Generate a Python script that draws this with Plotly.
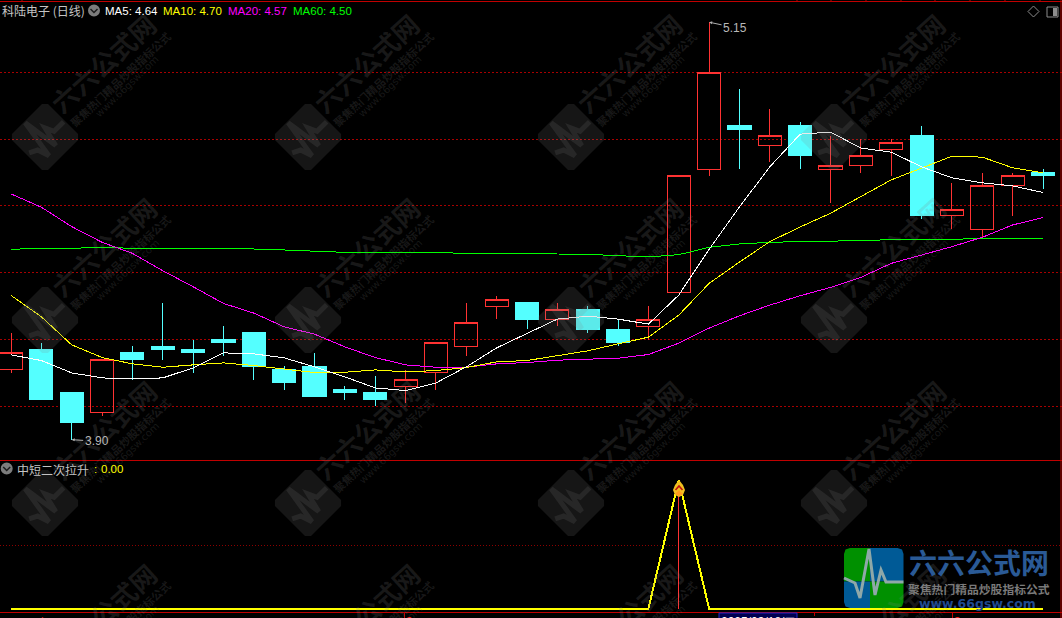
import math
import plotly.graph_objects as go

# ---------- data ----------
day_index = [0, 1, 2, 3, 4, 5, 6, 7, 8, 9, 10, 11, 12, 13, 14, 15, 16, 17,
             18, 19, 20, 21, 22, 23, 24, 25, 26, 27, 28, 29, 30, 31, 32, 33, 34]
open_p = [4.11, 4.17, 4.04, 3.98, 4.16, 4.18, 4.17, 4.20, 4.22, 4.11, 4.12, 4.05,
          4.04, 4.06, 4.10, 4.18, 4.30, 4.31, 4.26, 4.29, 4.23, 4.24, 4.34, 4.71,
          4.84, 4.78, 4.84, 4.71, 4.72, 4.77, 4.81, 4.57, 4.53, 4.66, 4.70]
close_p = [4.16, 4.02, 3.95, 4.14, 4.14, 4.17, 4.16, 4.19, 4.12, 4.07, 4.03, 4.04,
           4.02, 4.08, 4.19, 4.25, 4.32, 4.26, 4.29, 4.23, 4.19, 4.26, 4.69, 5.00,
           4.83, 4.81, 4.75, 4.72, 4.75, 4.79, 4.57, 4.59, 4.66, 4.69, 4.69]
high_p = [4.22, 4.19, 4.04, 4.14, 4.18, 4.31, 4.20, 4.24, 4.22, 4.12, 4.16, 4.06,
          4.09, 4.11, 4.19, 4.31, 4.33, 4.31, 4.31, 4.30, 4.26, 4.30, 4.69, 5.15,
          4.95, 4.89, 4.85, 4.81, 4.80, 4.80, 4.84, 4.67, 4.70, 4.70, 4.71]
low_p = [4.10, 4.02, 3.90, 3.97, 4.08, 4.14, 4.10, 4.15, 4.08, 4.05, 4.03, 4.02,
         4.00, 4.01, 4.05, 4.15, 4.26, 4.23, 4.24, 4.22, 4.18, 4.20, 4.34, 4.69,
         4.71, 4.73, 4.71, 4.61, 4.70, 4.69, 4.56, 4.53, 4.50, 4.57, 4.65]
ma5 = [4.154, 4.137, 4.100, 4.085, 4.082, 4.085, 4.115, 4.160, 4.157, 4.145, 4.118, 4.088,
       4.055, 4.047, 4.070, 4.118, 4.175, 4.219, 4.261, 4.270, 4.261, 4.246, 4.333, 4.470,
       4.597, 4.717, 4.815, 4.821, 4.773, 4.761, 4.717, 4.684, 4.669, 4.660, 4.640]
ma10 = [4.332, 4.268, 4.184, 4.146, 4.127, 4.117, 4.124, 4.130, 4.122, 4.112, 4.101, 4.102,
        4.109, 4.103, 4.107, 4.116, 4.133, 4.137, 4.151, 4.166, 4.187, 4.207, 4.273, 4.368,
        4.432, 4.493, 4.537, 4.578, 4.628, 4.678, 4.713, 4.749, 4.746, 4.714, 4.699]
ma20 = [4.636, 4.596, 4.538, 4.491, 4.458, 4.406, 4.358, 4.308, 4.279, 4.238, 4.216, 4.178,
        4.146, 4.124, 4.117, 4.117, 4.127, 4.131, 4.138, 4.140, 4.144, 4.155, 4.189, 4.234,
        4.271, 4.303, 4.331, 4.356, 4.386, 4.428, 4.453, 4.478, 4.506, 4.543, 4.565]
ma60 = [4.470, 4.473, 4.473, 4.476, 4.473, 4.473, 4.473, 4.473, 4.471, 4.468, 4.464, 4.461,
        4.460, 4.460, 4.460, 4.460, 4.460, 4.458, 4.456, 4.455, 4.451, 4.447, 4.454, 4.476,
        4.486, 4.491, 4.493, 4.494, 4.496, 4.499, 4.500, 4.502, 4.503, 4.503, 4.503]
signal = [0, 0, 0, 0, 0, 0, 0, 0, 0, 0, 0, 0, 0, 0, 0, 0, 0, 0,
          0, 0, 0, 0, 1, 0, 0, 0, 0, 0, 0, 0, 0, 0, 0, 0, 0]
price_ticks = [4.0, 4.2, 4.4, 4.6, 4.8, 5.0]
signal_ticks = [0.49]
high_mark = (23, 5.15, "5.15")
low_mark = (2, 3.90, "3.90")
signal_stick_x = [22, 22]
signal_stick_y = [0, 1]

W, H = 1062, 618
CJK = "Noto Sans CJK SC"
LATIN = "Liberation Sans"
RED = "#ff3232"
CYAN = "#54ffff"
AXIS_RED = "#c00000"
WM = "rgba(128,128,128,0.19)"
WM_BODY = "rgba(128,128,128,0.17)"


def px(x):
    return x / W


def py(y):
    return 1 - y / H


def path(points, close=False):
    s = "M " + " L ".join(f"{px(x):.5f},{py(y):.5f}" for x, y in points)
    return s + (" Z" if close else "")


shapes = []
annotations = []


def shp_path(points, fill=None, color=None, width=0, close=False, layer="above"):
    shapes.append(dict(type="path", xref="paper", yref="paper", path=path(points, close),
                       fillcolor=fill or "rgba(0,0,0,0)",
                       line=dict(color=color or "rgba(0,0,0,0)", width=width), layer=layer))


def hline(y, x0, x1, color, width=1):
    shapes.append(dict(type="line", xref="paper", yref="paper", x0=px(x0), x1=px(x1),
                       y0=py(y), y1=py(y), line=dict(color=color, width=width)))


def vline(x, y0, y1, color, width=1):
    shapes.append(dict(type="line", xref="paper", yref="paper", x0=px(x), x1=px(x),
                       y0=py(y0), y1=py(y1), line=dict(color=color, width=width)))


def label(x, y, text, color, size, family=LATIN, anchor="left", angle=0):
    annotations.append(dict(xref="paper", yref="paper", x=px(x), y=py(y), text=text,
                            showarrow=False, xanchor=anchor, yanchor="middle", textangle=angle,
                            borderpad=0, borderwidth=0,
                            font=dict(color=color, size=size, family=family)))


# ---------- faint repeating watermark ----------
PULSE = [(-28, 0), (-18, 5), (-13, 20), (-5, -30), (2, 17), (8, -8), (13, 3), (30, 3)]


def rotate(pts, cx, cy, scale, deg=-45):
    a = math.radians(deg)
    return [(cx + scale * (x * math.cos(a) - y * math.sin(a)),
             cy + scale * (x * math.sin(a) + y * math.cos(a))) for x, y in pts]


for cx in (45, 308, 571, 834):
    for cy in (137, 320, 503, 686):
        r = 30
        c = 5
        rect = [(-r + c, -r), (r - c, -r), (r, -r + c), (r, r - c), (r - c, r), (-r + c, r), (-r, r - c), (-r, -r + c)]
        shp_path(rotate(rect, cx, cy, 0.85), fill=WM_BODY, close=True)
        shp_path(rotate(PULSE, cx, cy, 0.8), color="rgba(128,128,128,0.16)", width=5)
        label(cx + 58, cy - 74, "<b>六六公式网</b>", WM, 26, CJK, "center", -42)
        label(cx + 75, cy - 58, "<b>聚焦热门精品炒股指标公式</b>", WM, 11, CJK, "center", -43)
        label(cx + 82, cy - 50, "www.66gsw.com", WM, 10, "DejaVu Sans", "center", -44)

# ---------- frame lines ----------
hline(1.5, 0, W, AXIS_RED)
hline(460.5, 0, W, AXIS_RED)
hline(612.5, 0, W, AXIS_RED)
vline(1061, 0, H, AXIS_RED)
for tx in (22, 797, 831, 866, 901, 935, 970, 1005, 1040):
    vline(tx, 0, 2, AXIS_RED)
vline(404.5, 612, 618, AXIS_RED)
vline(814.5, 612, 616, AXIS_RED)
vline(952.5, 612, 618, AXIS_RED)

# ---------- header text ----------
label(2, 11, "科陆电子 (日线)", "#c4c4c4", 12, CJK)
label(105, 11, "MA5: 4.64", "#ffffff", 11.5)
label(163, 11, "MA10: 4.70", "#ffff00", 11.5)
label(228, 11, "MA20: 4.57", "#ff00ff", 11.5)
label(293, 11, "MA60: 4.50", "#00ff00", 11.5)
label(17, 469, "中短二次拉升", "#c4c4c4", 12, CJK)
label(94, 469, ":", "#ffff00", 11.5)
label(101, 469, "0.00", "#ffff00", 11.5)


def round_icon(cx, cy):
    shapes.append(dict(type="circle", xref="paper", yref="paper", x0=px(cx - 6), x1=px(cx + 6),
                       y0=py(cy - 6), y1=py(cy + 6), fillcolor="#7c7c7c", line=dict(width=0)))
    shp_path([(cx - 3.5, cy - 1.5), (cx, cy + 2), (cx + 3.5, cy - 1.5)], color="#1c1c1c", width=1.5)


round_icon(94, 10.5)
round_icon(6.7, 468.5)

# top right tool icons
shp_path([(1033.5, 6), (1039, 11.5), (1033.5, 17), (1028, 11.5)], color="#8c8c8c", width=1, close=True)
shapes.append(dict(type="rect", xref="paper", yref="paper", x0=px(1047), x1=px(1058), y0=py(7), y1=py(17),
                   line=dict(color="#8c8c8c", width=1)))
shapes.append(dict(type="rect", xref="paper", yref="paper", x0=px(1053), x1=px(1057), y0=py(8), y1=py(16),
                   fillcolor="#8c8c8c", line=dict(width=0)))

# ---------- flame icon on the signal peak ----------
shp_path([(679, 480), (683, 485), (685, 490), (683, 495), (679, 497), (675, 495), (673, 490), (675, 485)],
         fill="#f0c020", close=True)
shp_path([(679, 490), (683, 494), (679, 496), (675, 494)], fill="#ff9a20", close=True)
shp_path([(675.5, 490), (679, 486), (682.5, 490)], color="#c01010", width=1.6)

# ---------- bottom logo ----------
LX0, LX1, LY0, LY1, SX, SY = 844, 903.5, 548, 608, 870, 581.5
cr = 6
shp_path([(LX0 + cr, LY0), (SX, LY0), (SX, SY), (LX0, SY), (LX0, LY0 + cr), (LX0 + 1.5, LY0 + 1.5)], fill="#009000", close=True)
shp_path([(SX, LY0), (LX1 - cr, LY0), (LX1 - 1.5, LY0 + 1.5), (LX1, LY0 + cr), (LX1, SY), (SX, SY)], fill="#005a96", close=True)
shp_path([(LX0, SY), (SX, SY), (SX, LY1), (LX0 + cr, LY1), (LX0 + 1.5, LY1 - 1.5), (LX0, LY1 - cr)], fill="#005a96", close=True)
shp_path([(SX, SY), (LX1, SY), (LX1, LY1 - cr), (LX1 - 1.5, LY1 - 1.5), (LX1 - cr, LY1), (SX, LY1)], fill="#009000", close=True)
shp_path([(844, 578), (855, 583), (860, 598), (869, 549), (875, 595), (881, 570), (886, 582), (903.5, 582)],
         color="#8fa8a8", width=3)
label(979, 561.5, "<b>六六公式网</b>", "#2a5a96", 28, CJK, "center")
label(979, 588, "<b>聚焦热门精品炒股指标公式</b>", "#7a7a7a", 11.8, CJK, "center")
label(977, 603.5, "<b>www.66gsw.com</b>", "#1f4a90", 12.5, "DejaVu Sans", "center")

# ---------- clipped bottom axis text ----------
shapes.append(dict(type="rect", xref="paper", yref="paper", x0=px(719), x1=px(797), y0=py(613), y1=py(632),
                   fillcolor="#000050", line=dict(color="#2424c8", width=1)))
label(721, 622, "2025/03/18/二", "#ffffff", 12, LATIN)
label(12, 622, "2025年", "#ff2020", 12, CJK)
label(406, 622, "9", "#ff2020", 12, LATIN)
label(954, 622, "3", "#ff2020", 12, LATIN)

# ---------- price marks ----------
for mx, my, mt, ax, ay in [(high_mark[0], high_mark[1], high_mark[2], 26, 5.5),
                           (low_mark[0], low_mark[1], low_mark[2], 25, 1.5)]:
    annotations.append(dict(x=mx, y=my, xref="x", yref="y", text=mt, showarrow=True, ax=ax, ay=ay,
                            axref="pixel", ayref="pixel", arrowhead=2, arrowsize=0.6, arrowwidth=1,
                            arrowcolor="#b0b0b0", standoff=0, startstandoff=0,
                            font=dict(color="#b8b8b8", size=12, family=LATIN)))

# ---------- traces ----------
fig = go.Figure()
fig.add_trace(go.Candlestick(
    x=day_index, open=open_p, high=high_p, low=low_p, close=close_p,
    increasing=dict(line=dict(color=RED, width=1), fillcolor="rgba(0,0,0,0)"),
    decreasing=dict(line=dict(color=CYAN, width=1), fillcolor=CYAN),
    xaxis="x", yaxis="y", hoverinfo="skip", showlegend=False))
for series, colour in ((ma60, "#00ff00"), (ma20, "#ff00ff"), (ma10, "#ffff00"), (ma5, "#ffffff")):
    fig.add_trace(go.Scatter(x=day_index, y=series, mode="lines", line=dict(color=colour, width=1),
                             xaxis="x", yaxis="y", hoverinfo="skip", showlegend=False))
fig.add_trace(go.Scatter(x=signal_stick_x, y=signal_stick_y, mode="lines", line=dict(color=RED, width=1),
                         xaxis="x2", yaxis="y2", hoverinfo="skip", showlegend=False))
fig.add_trace(go.Scatter(x=day_index, y=signal, mode="lines", line=dict(color="#ffff00", width=2),
                         xaxis="x2", yaxis="y2", hoverinfo="skip", showlegend=False))

x_range = [-0.3624, 34.626]
common_x = dict(range=x_range, showgrid=False, zeroline=False, showticklabels=False, ticks="",
                showline=False, fixedrange=True)
fig.update_layout(
    width=W, height=H, autosize=False, margin=dict(l=0, r=0, t=0, b=0, pad=0),
    paper_bgcolor="#000000", plot_bgcolor="rgba(0,0,0,0)", showlegend=False,
    boxgap=0.24, boxgroupgap=0,
    xaxis=dict(domain=[0, 1], anchor="y", rangeslider=dict(visible=False), **common_x),
    xaxis2=dict(domain=[0, 1], anchor="y2", **common_x),
    yaxis=dict(domain=[1 - 461 / H, 1], range=[3.8362, 5.2165], tickvals=price_ticks, showticklabels=False,
               ticks="", showgrid=True, gridcolor="#a80000", griddash="1.5px,2.5px", gridwidth=1,
               zeroline=False, showline=False, fixedrange=True),
    yaxis2=dict(domain=[0, 1 - 461 / H], range=[-0.0724, 1.1494], tickvals=signal_ticks, showticklabels=False,
                ticks="", showgrid=True, gridcolor="#8c0000", griddash="1px,2px", gridwidth=1,
                zeroline=False, showline=False, fixedrange=True),
    shapes=shapes, annotations=annotations, hovermode=False,
)

fig.write_html("out.html", config=dict(displayModeBar=False),
               post_script="document.body.style.margin='0';document.body.style.background='#000';"
                           "document.documentElement.style.overflow='hidden';"
                           "document.querySelectorAll('.scatterlayer path.js-line,.boxlayer path,.gridlayer path')"
                           ".forEach(function(p){p.style.shapeRendering='crispEdges';});")
